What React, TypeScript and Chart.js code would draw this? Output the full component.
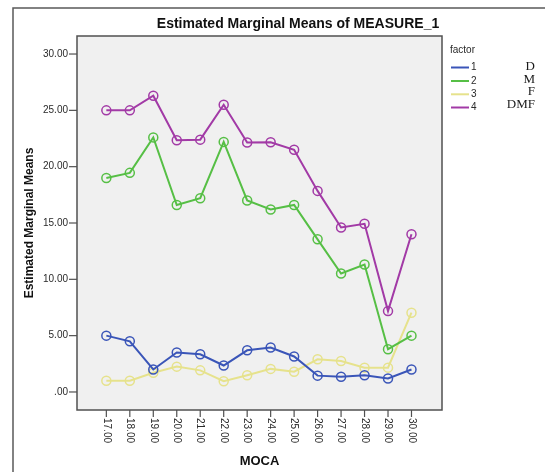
import React, { useEffect, useRef } from "react";
import { Chart, registerables } from "chart.js";

Chart.register(...registerables);

const categories = [17, 18, 19, 20, 21, 22, 23, 24, 25, 26, 27, 28, 29, 30];
const xTickLabels = ["17.00", "18.00", "19.00", "20.00", "21.00", "22.00", "23.00", "24.00", "25.00", "26.00", "27.00", "28.00", "29.00", "30.00"];
const yTickValues = [0, 5, 10, 15, 20, 25, 30];
const yTickLabels = [".00", "5.00", "10.00", "15.00", "20.00", "25.00", "30.00"];

const factor1 = [5.0, 4.5, 2.0, 3.5, 3.35, 2.35, 3.7, 3.95, 3.15, 1.45, 1.35, 1.48, 1.2, 2.0];
const factor2 = [19.0, 19.45, 22.6, 16.6, 17.2, 22.2, 17.0, 16.2, 16.6, 13.55, 10.52, 11.32, 3.8, 5.0];
const factor3 = [1.0, 1.0, 1.7, 2.25, 1.92, 0.95, 1.48, 2.05, 1.8, 2.9, 2.75, 2.16, 2.16, 7.04];
const factor4 = [25.0, 25.0, 26.3, 22.35, 22.4, 25.5, 22.15, 22.17, 21.5, 17.85, 14.6, 14.93, 7.18, 14.0];

const seriesNames = ["1", "2", "3", "4"];
const groupNames = ["D", "M", "F", "DMF"];
const seriesColors = ["#3a55b8", "#56bf45", "#e6e28c", "#a23aa6"];

const chartTitle = "Estimated Marginal Means of MEASURE_1";
const xTitle = "MOCA";
const yTitle = "Estimated Marginal Means";
const legendTitle = "factor";

const SANS = "'Liberation Sans', Arial, sans-serif";
const SERIF = "'Liberation Serif', 'Times New Roman', serif";

const decorPlugin = {
  id: "spssDecor",
  beforeDraw(chart: any) {
    const ctx = chart.ctx;
    const { left, right, top, bottom } = chart.chartArea;
    ctx.save();
    ctx.fillStyle = "#ffffff";
    ctx.fillRect(0, 0, chart.width, chart.height);
    // outer frame
    ctx.strokeStyle = "#5a5a5a";
    ctx.lineWidth = 1.5;
    ctx.beginPath();
    ctx.moveTo(13, chart.height);
    ctx.lineTo(13, 8);
    ctx.lineTo(chart.width, 8);
    ctx.stroke();
    // plot background
    ctx.fillStyle = "#f0f0f0";
    ctx.fillRect(left, top, right - left, bottom - top);
    ctx.strokeStyle = "#505050";
    ctx.lineWidth = 1.5;
    ctx.strokeRect(left, top, right - left, bottom - top);

    const xs = chart.scales.x;
    const ys = chart.scales.y;
    ctx.fillStyle = "#2a2a2a";
    ctx.strokeStyle = "#505050";
    ctx.lineWidth = 1.2;
    // y ticks
    ctx.font = `10px ${SANS}`;
    ctx.textAlign = "right";
    ctx.textBaseline = "middle";
    yTickValues.forEach((v, i) => {
      const y = ys.getPixelForValue(v);
      ctx.beginPath();
      ctx.moveTo(left - 8, y);
      ctx.lineTo(left, y);
      ctx.stroke();
      ctx.fillText(yTickLabels[i], left - 9, y);
    });
    // x ticks
    categories.forEach((c, i) => {
      const x = xs.getPixelForValue(c);
      ctx.beginPath();
      ctx.moveTo(x, bottom);
      ctx.lineTo(x, bottom + 7);
      ctx.stroke();
      ctx.save();
      ctx.translate(x, bottom + 8);
      ctx.rotate(Math.PI / 2);
      ctx.textAlign = "left";
      ctx.textBaseline = "middle";
      ctx.fillText(xTickLabels[i], 0, 0);
      ctx.restore();
    });
    // titles
    ctx.fillStyle = "#111";
    ctx.textAlign = "center";
    ctx.textBaseline = "middle";
    ctx.font = `bold 14px ${SANS}`;
    ctx.fillText(chartTitle, 298, 24);
    ctx.font = `bold 13px ${SANS}`;
    ctx.fillText(xTitle, (left + right) / 2, 461);
    ctx.save();
    ctx.translate(30, (top + bottom) / 2);
    ctx.rotate(-Math.PI / 2);
    ctx.font = `bold 12px ${SANS}`;
    ctx.fillText(yTitle, 0, 0);
    ctx.restore();

    // legend
    ctx.font = `10px ${SANS}`;
    ctx.fillStyle = "#2a2a2a";
    ctx.textAlign = "left";
    ctx.fillText(legendTitle, 450, 50);
    const rowY = [67.5, 81, 94.3, 107.5];
    seriesNames.forEach((n, i) => {
      ctx.strokeStyle = seriesColors[i];
      ctx.lineWidth = 2;
      ctx.beginPath();
      ctx.moveTo(451, rowY[i]);
      ctx.lineTo(469, rowY[i]);
      ctx.stroke();
      ctx.fillStyle = "#2a2a2a";
      ctx.fillText(n, 471, rowY[i]);
    });
    ctx.font = `13px ${SERIF}`;
    ctx.textAlign = "right";
    ctx.fillStyle = "#1a1a1a";
    const gY = [67, 79.5, 92, 104.5];
    groupNames.forEach((g, i) => {
      ctx.fillText(g, 535, gY[i]);
    });
    ctx.restore();
  },
};

export default function App() {
  const ref = useRef<HTMLCanvasElement | null>(null);
  useEffect(() => {
    if (!ref.current) return;
    const all = [factor1, factor2, factor3, factor4];
    const chart = new Chart(ref.current, {
      type: "line",
      data: {
        datasets: all.map((vals, i) => ({
          label: seriesNames[i],
          data: categories.map((c, j) => ({ x: c, y: vals[j] })),
          borderColor: seriesColors[i],
          backgroundColor: "rgba(0,0,0,0)",
          borderWidth: 2,
          pointRadius: 4.5,
          pointBorderWidth: 1.5,
          pointBorderColor: seriesColors[i],
          pointBackgroundColor: "rgba(0,0,0,0)",
          tension: 0,
          fill: false,
        })),
      },
      options: {
        animation: false,
        responsive: false,
        devicePixelRatio: 1,
        layout: { padding: { left: 77, right: 103, top: 36, bottom: 62 } },
        scales: {
          x: { type: "linear", min: 15.75, max: 31.3, display: false },
          y: { type: "linear", min: -1.6, max: 31.6, display: false },
        },
        plugins: {
          legend: { display: false },
          title: { display: false },
          tooltip: { enabled: false },
        },
      },
      plugins: [decorPlugin],
    });
    return () => chart.destroy();
  }, []);
  return (
    <div style={{ position: "absolute", left: 0, top: 0, width: 545, height: 472, background: "#fff" }}>
      <canvas ref={ref} width={545} height={472} style={{ display: "block" }} />
    </div>
  );
}
